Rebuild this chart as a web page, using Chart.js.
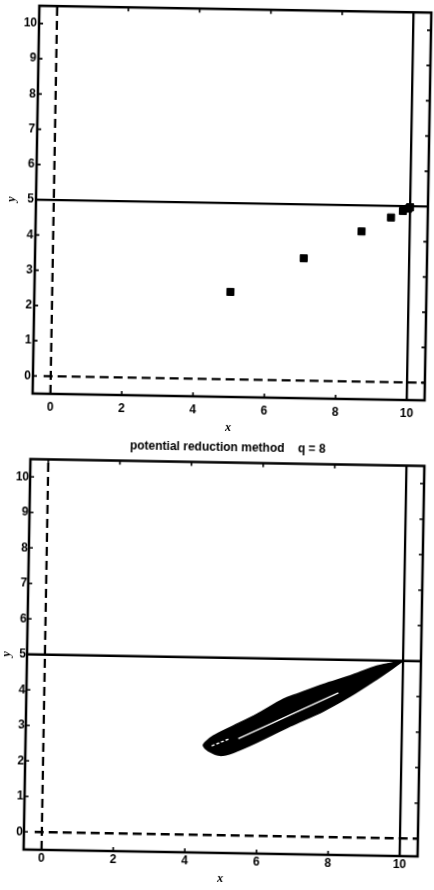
<!DOCTYPE html>
<html>
<head>
<meta charset="utf-8">
<script src="https://cdn.jsdelivr.net/npm/chart.js@4.4.1/dist/chart.umd.min.js"></script>
<style>
  html, body { margin: 0; padding: 0; background: #fff; overflow: hidden; }
  body { width: 434px; height: 890px; position: relative; }
  canvas { position: absolute; left: 0; }
  /* the scanned figure is tilted by about one degree */
  #top { top: 0; transform-origin: 233px 201.5px; transform: rotate(1deg); }
  #bottom { top: 440px; transform-origin: 224px 217.75px; transform: rotate(1deg); }
</style>
</head>
<body>
<canvas id="top" width="434" height="440"></canvas>
<canvas id="bottom" width="434" height="450"></canvas>
<script>
// axis ticks (same on both panels)
const xTicks = [0, 2, 4, 6, 8, 10];
const yTicks = [0, 1, 2, 3, 4, 5, 6, 7, 8, 9, 10];
const axisMin = -0.5;
const axisMax = 10.5;

// constraint lines x >= 0, y >= 0 (dashed), x <= 10, y <= 5 (solid)
const xLower = 0;
const yLower = 0;
const xUpper = 10;
const yUpper = 5;

// top panel: iterates
const iterX = [5.0, 7.04, 8.65, 9.47, 9.8, 9.95, 10.0];
const iterY = [2.48, 3.47, 4.26, 4.67, 4.86, 4.93, 4.97];

// bottom panel: outline of the dense bundle of trajectories
const bundleX = [10.0, 9.27, 8.53, 7.79, 7.05, 6.68, 5.94, 5.29, 4.74, 4.51, 4.47, 4.61, 4.94, 5.31, 5.95, 6.88, 7.8, 8.54, 9.27, 9.73, 10.0];
const bundleY = [5.0, 4.84, 4.55, 4.3, 4.01, 3.86, 3.42, 3.08, 2.79, 2.6, 2.51, 2.37, 2.25, 2.34, 2.63, 3.11, 3.55, 3.98, 4.47, 4.8, 5.0];
// white streaks inside the bundle
const streakX = [5.44, 8.21];
const streakY = [2.73, 4.07];
const streak2X = [4.7, 5.21];
const streak2Y = [2.51, 2.73];

const bottomTitle = 'potential reduction method    q = 8';

const pts = (xs, ys) => xs.map((x, i) => ({ x, y: ys[i] }));

const tickFont = { family: "'Liberation Sans', Arial, sans-serif", size: 12, weight: 'bold' };
const labelFont = { family: "'Liberation Serif', serif", size: 12, weight: 'bold', style: 'italic' };

function lineSet(data, dash) {
  return {
    data,
    showLine: true,
    borderColor: '#000',
    borderWidth: 2.3,
    borderDash: dash || [],
    pointRadius: 0,
    fill: false,
    order: 1
  };
}

function constraintSets() {
  return [
    lineSet(pts([xLower, xLower], [axisMin, axisMax]), [9, 5]),
    lineSet(pts([-0.2, axisMax], [yLower, yLower]), [9, 5]),
    lineSet(pts([xUpper, xUpper], [axisMin, axisMax])),
    lineSet(pts([axisMin, axisMax], [yUpper, yUpper]))
  ];
}

// box round the axes with inward ticks on all four sides
const boxPlugin = {
  id: 'matlabBox',
  afterDatasetsDraw(chart) {
    const { ctx, chartArea: a, scales: { x, y } } = chart;
    ctx.save();
    ctx.strokeStyle = '#000';
    ctx.lineWidth = 2.5;
    ctx.strokeRect(a.left, a.top, a.right - a.left, a.bottom - a.top);
    ctx.lineWidth = 1.6;
    ctx.beginPath();
    x.ticks.forEach(t => {
      const px = x.getPixelForValue(t.value);
      ctx.moveTo(px, a.bottom); ctx.lineTo(px, a.bottom - 4);
      ctx.moveTo(px, a.top); ctx.lineTo(px, a.top + 4);
    });
    y.ticks.forEach(t => {
      const py = y.getPixelForValue(t.value);
      ctx.moveTo(a.left, py); ctx.lineTo(a.left + 4, py);
      ctx.moveTo(a.right, py); ctx.lineTo(a.right - 4, py);
    });
    ctx.stroke();
    ctx.restore();
  }
};

function makePanel(id, datasets, o) {
  return new Chart(document.getElementById(id), {
    type: 'scatter',
    data: { datasets },
    options: {
      responsive: false,
      animation: false,
      devicePixelRatio: 1,
      layout: { padding: { top: o.padTop, right: o.padRight, left: 0, bottom: 0 } },
      plugins: {
        legend: { display: false },
        tooltip: { enabled: false },
        title: o.title ? {
          display: true,
          text: o.title,
          fullSize: false,
          color: '#000',
          font: { family: "'Liberation Sans', Arial, sans-serif", size: 12, weight: 'bold' },
          padding: { top: 0, bottom: o.titleGap }
        } : { display: false }
      },
      scales: {
        x: {
          type: 'linear',
          min: axisMin,
          max: axisMax,
          afterBuildTicks: s => { s.ticks = xTicks.map(v => ({ value: v })); },
          afterFit: s => { s.height = o.xAxisH; },
          grid: { display: false, drawTicks: false },
          border: { display: false },
          ticks: { color: '#000', font: tickFont, padding: o.xTickPad, maxRotation: 0, autoSkip: false },
          title: { display: true, text: 'x', color: '#000', font: labelFont, padding: { top: 0, bottom: o.xTitlePad } }
        },
        y: {
          type: 'linear',
          min: axisMin,
          max: axisMax,
          afterBuildTicks: s => { s.ticks = yTicks.map(v => ({ value: v })); },
          afterFit: s => { s.width = o.yAxisW; },
          grid: { display: false, drawTicks: false },
          border: { display: false },
          ticks: { color: '#000', font: tickFont, padding: o.yTickPad, autoSkip: false },
          title: { display: true, text: 'y', color: '#000', font: labelFont, padding: { top: o.yTitlePad, bottom: 0 } }
        }
      }
    },
    plugins: [boxPlugin]
  });
}

makePanel('top', [
  ...constraintSets(),
  {
    data: pts(iterX, iterY),
    pointStyle: 'rect',
    pointRadius: 5,
    backgroundColor: '#000',
    borderColor: '#000',
    borderWidth: 1,
    order: -1
  }
], { padTop: 6, padRight: 4, xAxisH: 43, yAxisW: 36, xTickPad: 6, yTickPad: 2, xTitlePad: 5, yTitlePad: 5 });

makePanel('bottom', [
  ...constraintSets(),
  {
    data: pts(bundleX, bundleY),
    showLine: true,
    tension: 0.3,
    borderColor: '#000',
    borderWidth: 1.5,
    backgroundColor: '#000',
    pointRadius: 0,
    fill: 'shape',
    order: 0
  },
  { ...lineSet(pts(streakX, streakY)), borderColor: '#fff', borderWidth: 1.4, order: -1 },
  { ...lineSet(pts(streak2X, streak2Y), [3, 2]), borderColor: '#fff', borderWidth: 1.4, order: -1 }
], { title: bottomTitle, titleGap: 8.1, padTop: 0, padRight: 13, xAxisH: 37, yAxisW: 27, xTickPad: 1, yTickPad: 1, xTitlePad: 4, yTitlePad: 0 });
</script>
</body>
</html>
